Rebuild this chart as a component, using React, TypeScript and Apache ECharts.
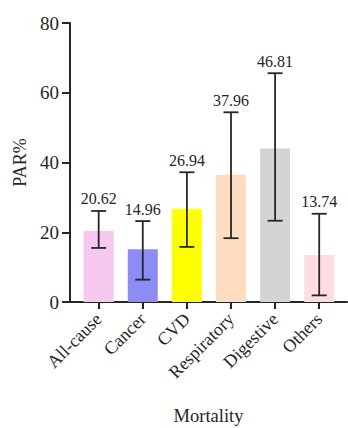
import React, { useEffect, useRef } from "react";
import * as echarts from "echarts";

const categories = ["All-cause", "Cancer", "CVD", "Respiratory", "Digestive", "Others"];
const barValues = [20.4, 15.1, 26.6, 36.5, 44.0, 13.5];
const errLow = [15.5, 6.4, 15.8, 18.3, 23.3, 1.9];
const errHigh = [26.1, 23.2, 37.2, 54.4, 65.6, 25.3];
const labelValues = ["20.62", "14.96", "26.94", "37.96", "46.81", "13.74"];
const barColors = ["#F6C8EE", "#8C8CF7", "#FFFF00", "#FDDCBF", "#D4D4D4", "#FDDDE1"];
const yTicks = [0, 20, 40, 60, 80];

const FONT = "'Liberation Serif', 'Times New Roman', serif";
const INK = "#262626";

export default function App() {
  const ref = useRef<HTMLDivElement>(null);
  useEffect(() => {
    if (!ref.current) return;
    const chart = echarts.init(ref.current, null, { renderer: "svg" });
    const idx = categories.map((_, i) => i);
    chart.setOption({
      animation: false,
      backgroundColor: "#ffffff",
      grid: { left: 70, right: 1, top: 23, bottom: 126, outerBoundsMode: "none", containLabel: false },
      xAxis: {
        type: "value",
        min: -0.65,
        max: 5.63,
        name: "Mortality",
        nameLocation: "middle",
        nameGap: 104,
        nameTextStyle: { fontFamily: FONT, fontSize: 18.5, color: INK },
        splitLine: { show: false },
        axisLine: { show: true, onZero: false, lineStyle: { color: INK, width: 2 } },
        axisTick: { show: true, length: 7, lineStyle: { color: INK, width: 2 }, customValues: idx },
        axisLabel: {
          customValues: idx,
          rotate: 45,
          margin: 14,
          fontFamily: FONT,
          fontSize: 18,
          color: INK,
          formatter: (v: number) => categories[Math.round(v)] ?? "",
        },
      },
      yAxis: {
        type: "value",
        min: yTicks[0],
        max: yTicks[yTicks.length - 1],
        interval: 20,
        name: "PAR%",
        nameLocation: "middle",
        nameGap: 41,
        nameTextStyle: { fontFamily: FONT, fontSize: 18, color: INK },
        splitLine: { show: false },
        axisLine: { show: true, onZero: false, lineStyle: { color: INK, width: 2 } },
        axisTick: { show: true, length: 8, lineStyle: { color: INK, width: 2 } },
        axisLabel: { margin: 11, fontFamily: FONT, fontSize: 19, color: INK },
      },
      series: [
        {
          type: "bar",
          barWidth: 30,
          data: barValues.map((v, i) => ({ value: [i, v], itemStyle: { color: barColors[i] } })),
          z: 2,
        },
        {
          type: "custom",
          z: 3,
          data: idx.map((i) => [i, errLow[i], errHigh[i]]),
          renderItem: (params: any, api: any) => {
            const i = api.value(0);
            const lo = api.coord([i, api.value(1)]);
            const hi = api.coord([i, api.value(2)]);
            const half = 7.5;
            const style = { stroke: INK, lineWidth: 1.8, fill: "none" };
            return {
              type: "group",
              children: [
                { type: "line", shape: { x1: lo[0], y1: lo[1], x2: hi[0], y2: hi[1] }, style },
                { type: "line", shape: { x1: lo[0] - half, y1: lo[1], x2: lo[0] + half, y2: lo[1] }, style },
                { type: "line", shape: { x1: hi[0] - half, y1: hi[1], x2: hi[0] + half, y2: hi[1] }, style },
                {
                  type: "text",
                  x: hi[0],
                  y: hi[1] - 12,
                  style: {
                    text: labelValues[params.dataIndex],
                    fontFamily: FONT,
                    fontSize: 16,
                    fill: INK,
                    align: "center",
                    verticalAlign: "middle",
                  },
                },
              ],
            };
          },
        },
      ],
    });
    return () => chart.dispose();
  }, []);
  return (
    <div
      ref={ref}
      style={{ position: "fixed", left: 0, top: 0, width: 348, height: 428, background: "#fff" }}
    />
  );
}
